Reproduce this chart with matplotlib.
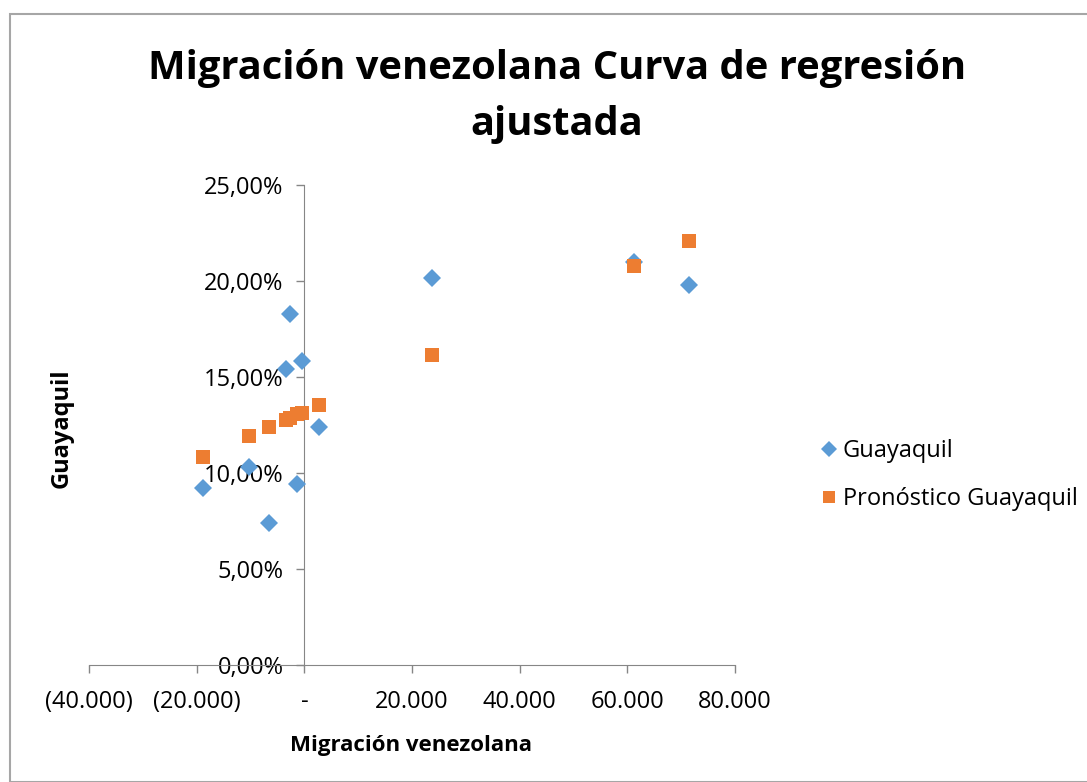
import matplotlib
matplotlib.use("Agg")
import matplotlib.pyplot as plt
from matplotlib.ticker import FuncFormatter, FixedLocator
from matplotlib.patches import Rectangle

# ---- data ----
migracion = [-18750, -10210, -6500, -3340, -2600, -1300, -370, 2790, 23770, 61280, 71490]
guayaquil = [0.0922, 0.1031, 0.0740, 0.1542, 0.1828, 0.0943, 0.1583, 0.1240, 0.2016, 0.2099, 0.1979]
pronostico = [0.1083, 0.1193, 0.1237, 0.1276, 0.1286, 0.1307, 0.1313, 0.1354, 0.1615, 0.2078, 0.2208]
x_ticks = [-40000, -20000, 0, 20000, 40000, 60000, 80000]
y_ticks = [0.0, 0.05, 0.10, 0.15, 0.20, 0.25]
title_lines = ["Migración venezolana Curva de regresión", "ajustada"]
x_label = "Migración venezolana"
y_label = "Guayaquil"
series_names = ["Guayaquil", "Pronóstico Guayaquil"]

FONT = ["Open Sans", "DejaVu Sans"]
plt.rcParams['font.family'] = FONT

fig = plt.figure(figsize=(10.87, 7.82), dpi=100)
W, H = 1087, 782

# chart border
fig.patches.append(Rectangle((10 / W, 0), 1.2, 1 - 14 / H, transform=fig.transFigure,
                             fill=False, edgecolor="#a6a6a6", linewidth=1.5, zorder=0))

ax = fig.add_axes([89 / W, 1 - 665 / H, (735 - 89) / W, (665 - 185) / H])
ax.set_xlim(-40000, 80000)
ax.set_ylim(0, 0.25)

ax.plot(migracion, guayaquil, linestyle="none", marker="D", markersize=9.5,
        color="#5B9BD5", markeredgewidth=0, label=series_names[0], zorder=3)
ax.plot(migracion, pronostico, linestyle="none", marker="s", markersize=10.5,
        color="#ED7D31", markeredgewidth=0, label=series_names[1], zorder=4)

for s in ["top", "right"]:
    ax.spines[s].set_visible(False)
ax.spines["left"].set_position(("data", 0))
ax.spines["left"].set_color("#868686")
ax.spines["bottom"].set_color("#868686")


def fmt_x(v, pos):
    if abs(v) < 1e-9:
        return "-"
    s = f"{abs(v):,.0f}".replace(",", ".")
    return f"({s})" if v < 0 else s


def fmt_y(v, pos):
    return f"{v * 100:.2f}%".replace(".", ",")


ax.xaxis.set_major_locator(FixedLocator(x_ticks))
ax.yaxis.set_major_locator(FixedLocator(y_ticks))
ax.xaxis.set_major_formatter(FuncFormatter(fmt_x))
ax.yaxis.set_major_formatter(FuncFormatter(fmt_y))
ax.tick_params(axis="x", direction="out", length=6, width=1, color="#868686",
               labelsize=17, pad=12)
ax.tick_params(axis="y", direction="out", length=6, width=1, color="#868686",
               labelsize=17, pad=9)

fig.text(557 / W, 1 - 68 / H, title_lines[0], ha="center", va="center", fontsize=28.7,
         fontweight="bold")
fig.text(557 / W, 1 - 125 / H, title_lines[1], ha="center", va="center", fontsize=28.7,
         fontweight="bold")
fig.text(411 / W, 1 - 745 / H, x_label, ha="center", va="center", fontsize=16,
         fontweight="bold")
fig.text(62 / W, 1 - 428 / H, y_label, ha="center", va="center", fontsize=17,
         fontweight="bold", rotation=90)

leg = ax.legend(loc="center left", bbox_to_anchor=(805 / W, 1 - 475 / H),
                bbox_transform=fig.transFigure, frameon=False, fontsize=17,
                handletextpad=0.0, handlelength=1.2, labelspacing=1.0, borderaxespad=0,
                markerscale=0.85)

fig.savefig("out.png", dpi=100)
